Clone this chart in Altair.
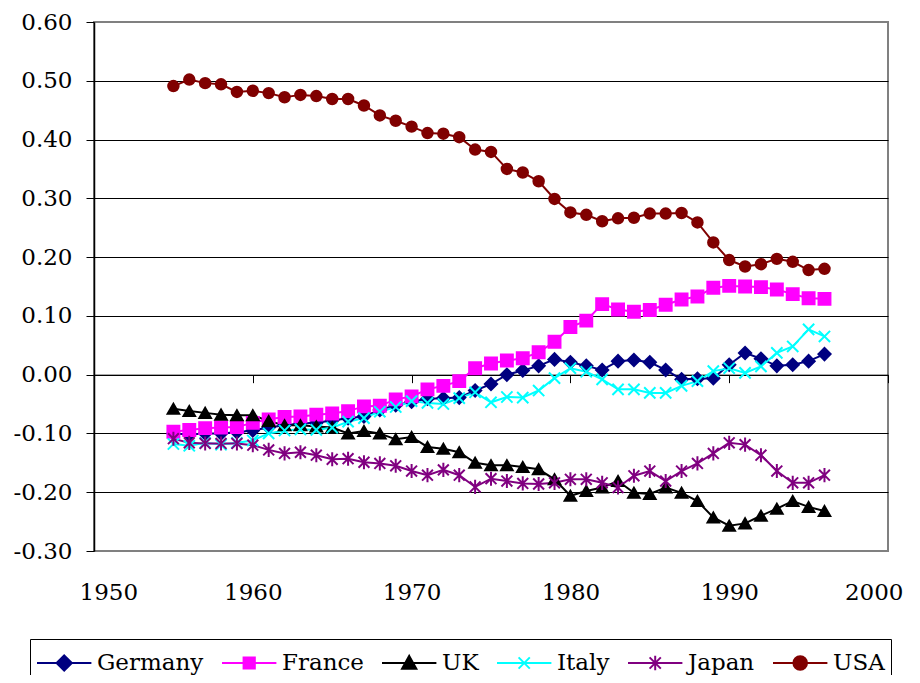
import altair as alt
import pandas as pd

years = [1955, 1956, 1957, 1958, 1959, 1960, 1961, 1962, 1963, 1964, 1965, 1966, 1967, 1968,
         1969, 1970, 1971, 1972, 1973, 1974, 1975, 1976, 1977, 1978, 1979, 1980, 1981, 1982,
         1983, 1984, 1985, 1986, 1987, 1988, 1989, 1990, 1991, 1992, 1993, 1994, 1995, 1996]

countries = ["Germany", "France", "UK", "Italy", "Japan", "USA"]

germany = [-0.100, -0.102, -0.100, -0.100, -0.098, -0.095, -0.090, -0.086, -0.083, -0.082,
           -0.078, -0.074, -0.071, -0.060, -0.052, -0.046, -0.041, -0.040, -0.039, -0.027,
           -0.016, 0.000, 0.007, 0.015, 0.026, 0.021, 0.015, 0.008, 0.023, 0.025,
           0.021, 0.008, -0.008, -0.007, -0.006, 0.017, 0.037, 0.027, 0.015, 0.017,
           0.023, 0.035]
france = [-0.097, -0.094, -0.091, -0.090, -0.089, -0.082, -0.076, -0.072, -0.071, -0.068,
          -0.066, -0.062, -0.054, -0.053, -0.042, -0.037, -0.025, -0.019, -0.011, 0.011,
          0.019, 0.024, 0.028, 0.038, 0.056, 0.081, 0.092, 0.120, 0.111, 0.107,
          0.110, 0.119, 0.128, 0.133, 0.148, 0.151, 0.150, 0.149, 0.145, 0.137,
          0.130, 0.129]
uk = [-0.058, -0.062, -0.065, -0.068, -0.069, -0.069, -0.079, -0.086, -0.086, -0.088,
      -0.090, -0.100, -0.096, -0.100, -0.110, -0.106, -0.123, -0.126, -0.132, -0.150,
      -0.154, -0.154, -0.157, -0.161, -0.178, -0.206, -0.198, -0.192, -0.181, -0.201,
      -0.203, -0.192, -0.201, -0.215, -0.243, -0.257, -0.253, -0.240, -0.228, -0.215,
      -0.225, -0.232]
italy = [-0.118, -0.121, -0.116, -0.119, -0.116, -0.112, -0.100, -0.095, -0.093, -0.094,
         -0.090, -0.080, -0.074, -0.063, -0.055, -0.045, -0.048, -0.050, -0.040, -0.030,
         -0.047, -0.038, -0.039, -0.027, -0.006, 0.011, 0.005, -0.008, -0.025, -0.025,
         -0.031, -0.031, -0.019, -0.011, 0.006, 0.011, 0.003, 0.014, 0.037, 0.048,
         0.077, 0.065]
japan = [-0.109, -0.116, -0.117, -0.117, -0.117, -0.120, -0.128, -0.134, -0.132, -0.137,
         -0.144, -0.143, -0.149, -0.151, -0.155, -0.164, -0.171, -0.162, -0.171, -0.191,
         -0.177, -0.181, -0.185, -0.186, -0.184, -0.178, -0.178, -0.184, -0.192, -0.172,
         -0.164, -0.181, -0.164, -0.151, -0.134, -0.116, -0.119, -0.137, -0.164, -0.184,
         -0.184, -0.171]
usa = [0.491, 0.502, 0.496, 0.494, 0.481, 0.483, 0.479, 0.472, 0.476, 0.474,
       0.469, 0.469, 0.458, 0.441, 0.432, 0.422, 0.411, 0.410, 0.404, 0.383,
       0.379, 0.350, 0.344, 0.329, 0.299, 0.276, 0.272, 0.261, 0.266, 0.267,
       0.274, 0.274, 0.275, 0.259, 0.225, 0.195, 0.184, 0.188, 0.197, 0.192,
       0.178, 0.180]

y_ticks = [-0.3, -0.2, -0.1, 0.0, 0.1, 0.2, 0.3, 0.4, 0.5, 0.6]
x_ticks = [1950, 1960, 1970, 1980, 1990, 2000]

colors = ["#000080", "#FF00FF", "#000000", "#00FFFF", "#800080", "#800000"]

X_PATH = "M-1,-1L1,1M-1,1L1,-1"
STAR_PATH = "M-1,-1L1,1M-1,1L1,-1M0,-1.3L0,1.3"
point_shapes = ["diamond", "square", "triangle-up", X_PATH, STAR_PATH, "circle"]
point_sizes = [150, 110, 140, 45, 50, 190]

LINE = "M-1,0L2.2,0"
legend_shapes = [
    LINE + "M0.6,-0.45L1.05,0L0.6,0.45L0.15,0Z",
    LINE + "M0.27,-0.33L0.93,-0.33L0.93,0.33L0.27,0.33Z",
    LINE + "M0.6,-0.42L1.02,0.34L0.18,0.34Z",
    LINE + "M0.27,-0.33L0.93,0.33M0.27,0.33L0.93,-0.33",
    LINE + "M0.27,-0.33L0.93,0.33M0.27,0.33L0.93,-0.33M0.6,-0.42L0.6,0.42",
    LINE + "M0.2,0A0.4,0.4 0 1,0 1.0,0A0.4,0.4 0 1,0 0.2,0Z",
]

rows = []
for name, vals in zip(countries, [germany, france, uk, italy, japan, usa]):
    for yr, v in zip(years, vals):
        rows.append({"Country": name, "Year": yr, "Value": v})
df = pd.DataFrame(rows)

FONT = "DejaVu Serif"
FS = 23

grid_color = {"condition": {"test": "datum.value < -0.29 || datum.value > 0.59", "value": "#808080"},
              "value": "black"}

x_enc = alt.X("Year:Q", scale=alt.Scale(domain=[1950, 2000], nice=False, zero=False),
              axis=alt.Axis(values=x_ticks, format="d", title=None, grid=False,
                            offset=-176.33, labelPadding=199, tickSize=8, tickColor="black",
                            domainColor="black", labelFont=FONT, labelFontSize=FS,
                            labelColor="black", labelFlush=True, labelFlushOffset=15,
                            labelOverlap=False))
y_enc = alt.Y("Value:Q", scale=alt.Scale(domain=[-0.3, 0.6], nice=False, zero=False),
              axis=alt.Axis(values=y_ticks, title=None, grid=True,
                            labelExpr="(datum.value < 0 ? '-' : '') + format(abs(datum.value), '.2f')",
                            gridColor=grid_color, gridOpacity=1, gridWidth=1,
                            tickSize=8, tickColor="black", domainColor="black", domainWidth=1.5,
                            labelPadding=14, labelFont=FONT, labelFontSize=FS,
                            labelColor="black", labelFlush=False, labelOverlap=False))

base = alt.Chart(df).encode(x=x_enc, y=y_enc)

lines = base.mark_line(strokeWidth=2).encode(
    color=alt.Color("Country:N", scale=alt.Scale(domain=countries, range=colors), legend=None),
    detail="Country:N",
)

points = base.mark_point(opacity=1, strokeWidth=2).encode(
    fill=alt.Fill("Country:N", scale=alt.Scale(domain=countries, range=colors), legend=None),
    stroke=alt.Stroke("Country:N", scale=alt.Scale(domain=countries, range=colors), legend=None),
    shape=alt.Shape("Country:N", scale=alt.Scale(domain=countries, range=point_shapes), legend=None),
    size=alt.Size("Country:N", scale=alt.Scale(domain=countries, range=point_sizes), legend=None),
)

leg = alt.Legend(orient="none", legendX=-64, legendY=617, direction="horizontal", columns=6,
                 title=None, symbolSize=1156, symbolStrokeWidth=2, labelOffset=25,
                 columnPadding=14, padding=6, strokeColor="black", fillColor="white",
                 labelFont=FONT, labelFontSize=FS, labelColor="black", labelLimit=300)

legend_layer = alt.Chart(df).transform_filter("datum.Year < 0").mark_point(
    opacity=1, strokeWidth=2).encode(
    fill=alt.Fill("Country:N", scale=alt.Scale(domain=countries, range=colors), legend=leg),
    stroke=alt.Stroke("Country:N", scale=alt.Scale(domain=countries, range=colors), legend=leg),
    shape=alt.Shape("Country:N", scale=alt.Scale(domain=countries, range=legend_shapes), legend=leg),
)

chart = alt.layer(lines, points, legend_layer).resolve_scale(
    fill="independent", stroke="independent", shape="independent"
).properties(
    width=794, height=529,
    autosize=alt.AutoSizeParams(type="none"),
    padding={"left": 86, "top": 14, "right": 24, "bottom": 124},
).configure_view(stroke="#808080", strokeWidth=2)

chart.save("out.html", embed_options={"renderer": "svg", "actions": False})
